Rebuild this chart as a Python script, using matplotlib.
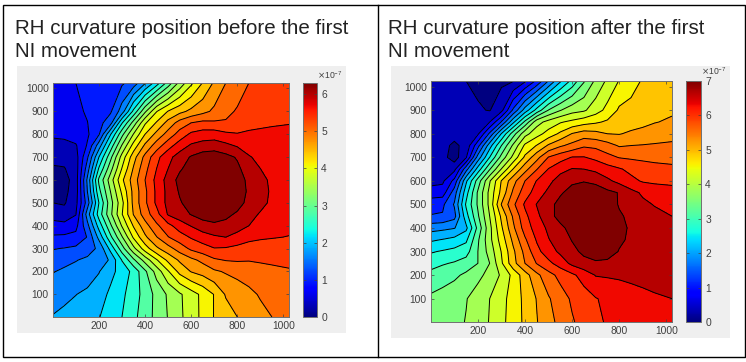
import numpy as np
import matplotlib
matplotlib.use("Agg")
import matplotlib.pyplot as plt
from matplotlib.cm import ScalarMappable
from matplotlib.colors import Normalize
from matplotlib.patches import Rectangle

plt.rcParams['font.family'] = ['Liberation Sans', 'DejaVu Sans']

W, H = 746, 362

xs = [1, 50, 100, 150, 200, 250, 300, 350, 400, 450, 500, 550, 600, 650, 700, 750, 800, 850, 900, 950, 1024]
ys = [1, 100, 200, 250, 300, 350, 400, 450, 500, 550, 600, 650, 700, 750, 800, 850, 900, 1024]

# values in contour steps (1 step = max / 21), bottom row first
before = [
    [6.05, 6.2, 6.4, 6.6, 6.95, 7.5, 8.0, 8.75, 9.5, 10.3, 11.05, 11.8, 12.5, 13.25, 14.05, 14.5, 15.0, 15.35, 15.7, 16.0, 16.4],
    [5.6, 5.8, 5.98, 6.2, 6.55, 7.2, 7.8, 8.5, 9.4, 10.3, 11.15, 11.85, 12.55, 13.25, 14.05, 15.1, 15.45, 15.75, 16.1, 16.3, 16.6],
    [4.95, 5.17, 5.33, 5.5, 5.95, 6.7, 7.4, 8.3, 9.8, 11.4, 12.9, 14.3, 15.05, 15.4, 15.85, 16.1, 16.3, 16.5, 16.7, 16.8, 16.9],
    [4.5, 4.7, 4.95, 5.2, 5.35, 6.15, 8.05, 9.8, 11.4, 12.9, 14.25, 15.15, 15.75, 16.25, 16.85, 17.05, 17.1, 17.05, 17.1, 17.15, 17.25],
    [3.95, 4.05, 4.2, 4.55, 5.2, 7.3, 9.55, 11.7, 13.5, 14.8, 15.6, 16.45, 17.2, 17.6, 17.95, 17.9, 17.75, 17.7, 17.65, 17.6, 17.6],
    [3.15, 3.2, 3.3, 4.05, 6.3, 8.75, 10.9, 13.15, 14.8, 15.95, 16.95, 17.55, 18.1, 18.5, 18.85, 19.0, 18.6, 18.2, 18.1, 18.05, 17.97],
    [2.35, 2.3, 2.7, 4.7, 7.4, 9.8, 12.1, 14.1, 15.6, 16.8, 17.7, 18.5, 19.05, 19.6, 19.8, 19.7, 19.5, 19.0, 18.6, 18.4, 18.2],
    [1.6, 1.4, 1.95, 5.5, 8.45, 10.75, 12.95, 15.05, 16.5, 17.65, 19.1, 19.55, 20.05, 20.4, 20.5, 20.25, 19.85, 19.35, 18.9, 18.55, 18.4],
    [1.0, 0.9, 1.7, 4.5, 8.0, 10.6, 12.7, 15.3, 16.8, 18.2, 19.3, 19.9, 20.4, 20.7, 20.8, 20.7, 20.4, 19.7, 19.3, 18.8, 18.5],
    [0.55, 0.75, 1.5, 5.0, 8.7, 11.0, 13.2, 15.3, 16.8, 18.2, 19.3, 20.1, 20.6, 20.85, 20.9, 20.75, 20.5, 19.85, 19.4, 18.85, 18.5],
    [0.3, 0.6, 1.5, 5.2, 9.2, 11.5, 13.8, 15.5, 17.0, 18.3, 19.4, 20.3, 20.7, 20.9, 20.9, 20.7, 20.4, 19.8, 19.3, 18.8, 18.5],
    [0.9, 0.95, 1.5, 4.5, 8.1, 10.6, 13.05, 15.1, 16.7, 18.0, 19.0, 19.85, 20.45, 20.75, 20.8, 20.55, 20.2, 19.5, 19.0, 18.7, 18.45],
    [1.25, 1.3, 1.6, 3.85, 7.0, 9.7, 12.4, 14.6, 16.3, 17.7, 18.7, 19.45, 20.1, 20.5, 20.6, 20.3, 19.9, 19.1, 18.7, 18.5, 18.4],
    [1.7, 1.75, 1.9, 3.1, 5.5, 8.4, 11.1, 13.4, 15.2, 16.5, 17.6, 18.5, 19.15, 19.4, 19.5, 19.25, 18.9, 18.5, 18.35, 18.35, 18.35],
    [2.15, 2.2, 2.5, 2.85, 3.9, 6.9, 9.7, 12.05, 14.0, 15.3, 16.4, 17.4, 18.2, 18.45, 18.5, 18.2, 18.05, 18.15, 18.2, 18.2, 18.3],
    [2.3, 2.4, 2.7, 2.98, 3.65, 4.6, 7.9, 10.4, 12.85, 14.1, 15.35, 16.4, 17.0, 17.25, 17.15, 17.1, 17.5, 17.7, 17.8, 17.9, 17.95],
    [2.4, 2.6, 2.8, 3.1, 3.5, 3.85, 5.5, 8.25, 10.8, 12.95, 14.05, 14.7, 15.25, 15.7, 16.2, 16.75, 17.1, 17.3, 17.4, 17.5, 17.6],
    [2.3, 2.6, 3.0, 3.2, 3.4, 3.6, 3.85, 4.45, 5.9, 7.5, 9.4, 11.3, 12.8, 14.05, 15.15, 16.0, 16.5, 17.0, 17.2, 17.3, 17.4],
]
after = [
    [10.05, 10.35, 10.7, 11.05, 11.55, 12.05, 12.75, 13.45, 14.2, 14.95, 15.65, 16.3, 16.9, 17.35, 17.8, 18.1, 18.25, 18.4, 18.5, 18.6, 18.75],
    [10.2, 10.4, 10.65, 10.95, 11.45, 12.0, 12.65, 13.45, 14.25, 15.05, 15.9, 16.55, 17.15, 17.55, 17.95, 18.2, 18.4, 18.55, 18.7, 18.85, 19.0],
    [9.3, 9.55, 9.8, 10.2, 10.75, 11.3, 12.15, 13.3, 14.55, 15.75, 16.65, 17.3, 17.8, 18.4, 19.05, 19.1, 19.15, 19.25, 19.35, 19.45, 19.6],
    [8.65, 8.9, 9.1, 9.45, 10.0, 11.0, 12.85, 14.65, 16.0, 17.05, 17.75, 18.45, 19.25, 19.7, 19.85, 19.8, 19.55, 19.45, 19.45, 19.45, 19.55],
    [7.9, 8.1, 8.3, 8.6, 10.0, 11.4, 13.05, 14.8, 16.3, 17.7, 18.55, 19.2, 19.75, 20.2, 20.5, 20.4, 19.95, 19.7, 19.6, 19.55, 19.5],
    [6.85, 7.05, 7.3, 7.8, 9.85, 11.7, 13.45, 15.25, 16.85, 18.1, 18.95, 19.5, 20.05, 20.4, 20.6, 20.45, 20.15, 19.85, 19.75, 19.7, 19.6],
    [5.6, 5.75, 5.95, 6.75, 9.3, 11.7, 13.85, 15.8, 17.45, 18.45, 19.2, 19.8, 20.3, 20.6, 20.7, 20.5, 20.2, 19.9, 19.8, 19.75, 19.7],
    [4.05, 4.1, 4.65, 7.6, 9.85, 12.0, 14.2, 16.15, 17.75, 18.75, 19.7, 20.3, 20.65, 20.85, 20.85, 20.6, 20.15, 19.75, 19.45, 19.25, 19.0],
    [3.7, 3.8, 5.1, 8.15, 10.15, 12.3, 15.05, 16.8, 18.15, 19.05, 19.75, 20.25, 20.6, 20.8, 20.85, 20.65, 19.9, 19.45, 19.2, 18.95, 18.65],
    [2.4, 2.5, 4.5, 7.6, 10.15, 12.3, 14.3, 16.2, 17.55, 18.45, 19.25, 19.9, 20.3, 20.5, 20.45, 20.25, 19.95, 19.3, 18.85, 18.6, 18.4],
    [1.7, 1.8, 3.3, 6.8, 9.45, 11.9, 14.05, 15.65, 17.0, 18.05, 18.7, 19.5, 19.85, 19.95, 19.8, 19.2, 18.7, 18.25, 17.9, 17.8, 17.75],
    [1.5, 1.5, 1.7, 4.6, 7.4, 9.9, 12.05, 14.05, 15.65, 16.95, 18.05, 18.65, 19.05, 19.0, 18.75, 18.4, 18.1, 17.75, 17.45, 17.3, 17.2],
    [1.4, 1.35, 0.5, 1.9, 5.4, 8.0, 10.35, 12.3, 14.2, 15.65, 17.05, 17.6, 18.05, 18.05, 17.75, 17.3, 16.95, 16.85, 16.8, 16.75, 16.7],
    [1.35, 1.3, 0.8, 1.3, 3.65, 6.55, 9.0, 11.2, 13.2, 14.05, 15.15, 15.85, 16.3, 16.85, 16.75, 16.4, 15.9, 16.0, 16.05, 16.1, 16.15],
    [1.35, 1.3, 1.35, 1.5, 1.85, 4.2, 7.05, 9.55, 11.65, 12.6, 13.4, 14.2, 15.05, 15.45, 15.3, 15.0, 14.95, 15.15, 15.3, 15.5, 15.7],
    [1.3, 1.3, 1.3, 1.3, 1.3, 2.0, 4.1, 6.75, 9.25, 11.6, 12.35, 12.9, 13.25, 13.6, 13.85, 14.15, 14.4, 14.6, 14.75, 14.95, 15.15],
    [1.3, 1.3, 1.25, 1.2, 1.1, 0.95, 1.7, 4.2, 6.45, 8.35, 10.05, 10.95, 11.6, 11.85, 12.55, 13.3, 14.15, 14.3, 14.45, 14.6, 14.85],
    [1.4, 1.35, 1.2, 1.0, 0.8, 0.7, 0.8, 0.95, 1.85, 3.2, 5.05, 6.85, 8.3, 9.9, 11.2, 12.2, 13.05, 13.6, 14.1, 14.3, 14.5],
]

titles = ["RH curvature position before the first\nNI movement",
          "RH curvature position after the first\nNI movement"]
xticks = [200, 400, 600, 800, 1000]
yticks = [100, 200, 300, 400, 500, 600, 700, 800, 900, 1000]
before_max = 6.3
after_max = 7.0
GREY = '#404040'


def box(x0, y0, x1, y1):
    # pixel box, y from the top
    return [x0 / W, 1 - y1 / H, (x1 - x0) / W, (y1 - y0) / H]


fig = plt.figure(figsize=(W / 100, H / 100), dpi=100, facecolor='white')


def panel(values, vmax, cticks, bg, ax_box, cbar_box, exp_xy, title, title_xy):
    fig.add_artist(Rectangle((bg[0] / W, 1 - bg[3] / H), (bg[2] - bg[0]) / W, (bg[3] - bg[1]) / H,
                             transform=fig.transFigure, facecolor='#efefef', edgecolor='none', zorder=-1))
    ax = fig.add_axes(box(*ax_box))
    step = vmax / 21
    z = np.array(values) * step
    levels = np.arange(0, 22) * step
    cmap = plt.get_cmap('jet')
    colors = [cmap(k / 20) for k in range(21)]
    ax.contourf(xs, ys, z, levels=levels, colors=colors)
    ax.contour(xs, ys, z, levels=levels[1:21], colors='black', linewidths=0.7)
    ax.set_xlim(1, 1024)
    ax.set_ylim(1, 1024)
    ax.set_xticks(xticks)
    ax.set_yticks(yticks)
    ax.tick_params(direction='in', length=2.2, width=0.5, color=GREY, labelcolor=GREY,
                   labelsize=7.4, top=True, right=True, pad=3)
    for s in ax.spines.values():
        s.set_color('#707070')
        s.set_linewidth(0.7)

    cax = fig.add_axes(box(*cbar_box))
    cb = fig.colorbar(ScalarMappable(Normalize(0, vmax), cmap='jet'), cax=cax)
    cb.set_ticks(cticks)
    cax.tick_params(direction='in', length=2.2, width=0.5, color=GREY, labelcolor=GREY,
                    labelsize=7.4, pad=3, left=True, right=True)
    cb.outline.set_edgecolor('#707070')
    cb.outline.set_linewidth(0.7)
    fig.text(exp_xy[0] / W, 1 - exp_xy[1] / H, r'$\times\mathregular{10^{-7}}$', fontsize=6.2, color=GREY,
             ha='left', va='center')
    fig.text(title_xy[0] / W, 1 - title_xy[1] / H, title, fontsize=14.8, color='#222222',
             ha='left', va='top', linespacing=1.24)


panel(before, before_max, [0, 1, 2, 3, 4, 5, 6], (17, 66, 346, 333), (53, 83, 289, 317), (303, 83, 317, 317),
      (317, 75), titles[0], (15, 19))
panel(after, after_max, [0, 1, 2, 3, 4, 5, 6, 7], (391, 66, 730, 338), (431, 81, 672, 322), (686, 81, 701, 322),
      (701, 71), titles[1], (388, 19))

# table borders around the two panels
fig.add_artist(Rectangle((2.5 / W, 1 - 356.5 / H), 742 / W, 352 / H, transform=fig.transFigure,
                         facecolor='none', edgecolor='black', linewidth=1))
fig.add_artist(plt.Line2D([378.5 / W, 378.5 / W], [1 - 356.5 / H, 1 - 4.5 / H], transform=fig.transFigure,
                          color='black', linewidth=1))

fig.savefig('out.png', dpi=100)
